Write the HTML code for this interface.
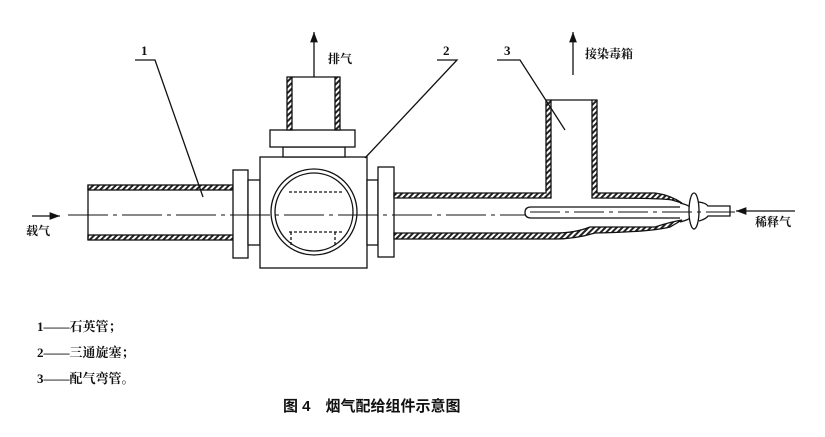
<!DOCTYPE html>
<html><head><meta charset="utf-8"><style>
body{margin:0;background:#fff}
svg{display:block}
text{font-family:"Liberation Serif","Noto Serif CJK SC","Noto Sans CJK SC",serif;fill:#111}
</style></head><body>
<svg width="825" height="437" viewBox="0 0 825 437" xmlns="http://www.w3.org/2000/svg">
<defs>
<pattern id="h" width="4" height="4" patternUnits="userSpaceOnUse" patternTransform="rotate(45)">
<rect width="4" height="4" fill="#fff"/><rect width="2" height="4" fill="#222"/></pattern>
<marker id="a" markerWidth="8" markerHeight="6" refX="8" refY="3" orient="auto"><path d="M0,0 L8,3 L0,6z" fill="#111"/></marker>
</defs>
<g stroke="#111" stroke-width="1.3" fill="none">
<rect x="88" y="185" width="145" height="5" fill="url(#h)"/>
<rect x="88" y="235" width="145" height="5" fill="url(#h)"/>
<line x1="88" y1="185" x2="88" y2="240"/>
<rect x="233" y="170" width="15" height="88" fill="#fff"/>
<rect x="248" y="180" width="12" height="65" fill="#fff"/>
<rect x="260" y="157" width="107" height="111" fill="#fff"/>
<circle cx="314" cy="212" r="43"/>
<circle cx="314" cy="212" r="39"/>
<line x1="289" y1="192" x2="343" y2="192" stroke-dasharray="3,2"/>
<line x1="289" y1="232" x2="343" y2="232" stroke-dasharray="3,2"/>
<line x1="291" y1="232" x2="291" y2="247" stroke-dasharray="3,2"/>
<line x1="335" y1="232" x2="335" y2="247" stroke-dasharray="3,2"/>
<rect x="283" y="147" width="62" height="10" fill="#fff"/>
<rect x="270" y="130" width="85" height="17" fill="#fff"/>
<rect x="287" y="77" width="5" height="53" fill="url(#h)"/>
<rect x="335" y="77" width="5" height="53" fill="url(#h)"/>
<line x1="292" y1="77" x2="335" y2="77"/>
<line x1="314" y1="77" x2="314" y2="32" marker-end="url(#a)"/>
<rect x="367" y="180" width="11" height="65" fill="#fff"/>
<rect x="378" y="167" width="16" height="90" fill="#fff"/>
<path d="M394,193 H546 V100 H551 V198 H394 Z" fill="url(#h)"/>
<line x1="551" y1="100" x2="592" y2="100"/>
<path d="M592,100 H597 V193 H655 Q670,195 682,203 L672,200 Q660,198 592,198 Z" fill="url(#h)"/>
<path d="M394,233 H555 Q575,233 590,227 H655 Q670,222 682,220 L670,227 Q650,232 595,233 Q575,239 555,239 H394 Z" fill="url(#h)"/>
<path d="M680,207 H531 Q525,207 525,212.5 Q525,218 531,218 H680" fill="#fff"/>
<path d="M680,203 Q688,205 690,207"/>
<path d="M680,222 Q688,220 690,218"/>
<ellipse cx="694" cy="211" rx="5" ry="18" fill="#fff"/>
<path d="M699,202 Q706,203 708,206 H730 V216 H708 Q706,219 699,221"/>
<line x1="795" y1="211" x2="736" y2="211" marker-end="url(#a)"/>
<line x1="32" y1="216" x2="60" y2="216" marker-end="url(#a)"/>
<line x1="68" y1="215" x2="525" y2="215" stroke-width="1" stroke-dasharray="40,5,4,5"/>
<line x1="530" y1="212" x2="735" y2="212" stroke-width="1" stroke-dasharray="30,5,4,5"/>
<polyline points="135,60 155,60 203,197"/>
<polyline points="437,60 457,60 365,158"/>
<polyline points="497,60 520,60 565,130"/>
<line x1="573" y1="75" x2="573" y2="32" marker-end="url(#a)"/>
</g>
<g font-size="13" font-weight="bold">
<text x="141" y="55">1</text>
<text x="443" y="55">2</text>
<text x="504" y="55">3</text>
<text x="328" y="63" font-size="12">排气</text>
<text x="585" y="58" font-size="12">接染毒箱</text>
<text x="26" y="235" font-size="12">载气</text>
<text x="755" y="226" font-size="12">稀释气</text>
</g>
<g font-size="13" font-weight="bold" style="font-family:'Liberation Serif','Noto Sans CJK SC',sans-serif">
<text x="37" y="331">1——石英管；</text>
<text x="37" y="357">2——三通旋塞；</text>
<text x="37" y="383">3——配气弯管。</text>
</g>
<text x="283" y="411" font-size="15" font-weight="bold" style="font-family:'Liberation Sans','Noto Sans CJK SC',sans-serif">图 4　烟气配给组件示意图</text>
</svg>
</body></html>
